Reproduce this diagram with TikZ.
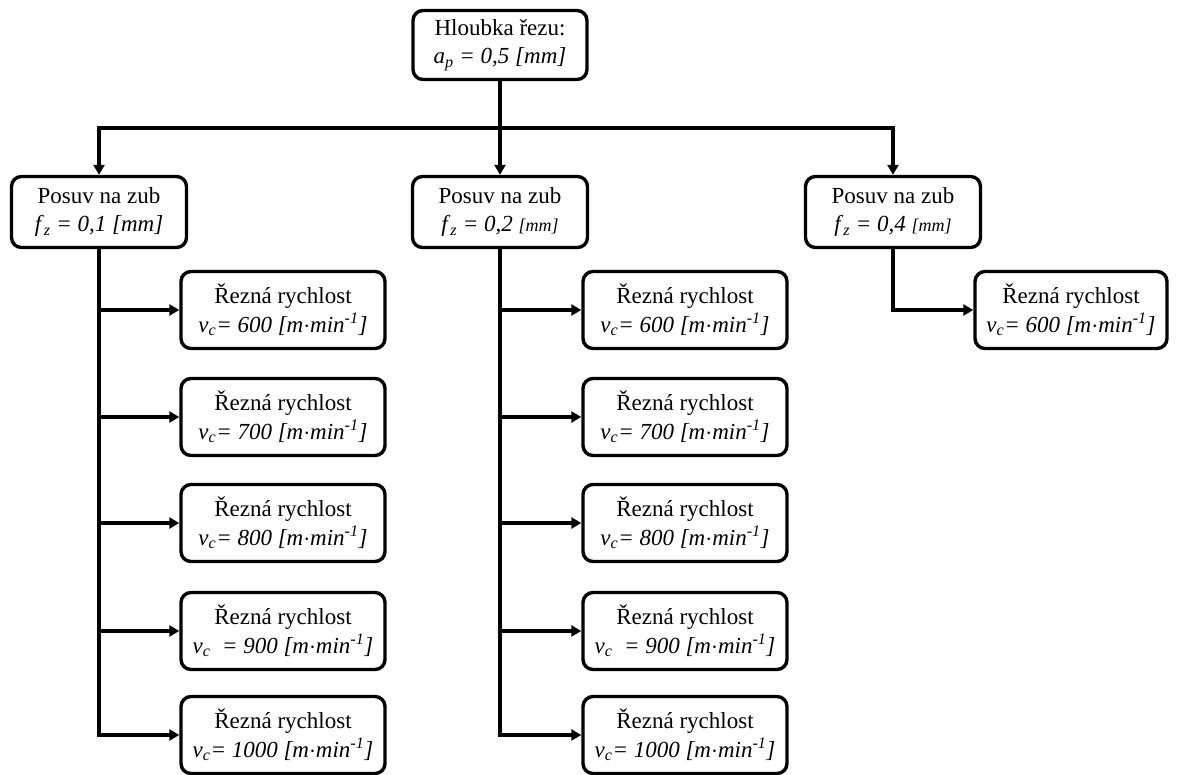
\documentclass[tikz,border=0pt]{standalone}
\usepackage{fontspec}
\setmainfont{Liberation Serif}
\usetikzlibrary{arrows.meta}
\newcommand{\vc}[1]{\textit{v}\textsubscript{\textit{c}}\textit{#1 [m$\cdot$min\textsuperscript{-1}]}}
\begin{document}
\begin{tikzpicture}[x=1pt,y=-1pt,
  box/.style={draw,line width=3.4pt,rounded corners=10pt,align=center,inner sep=0pt,font=\fontsize{23}{28.5}\selectfont},
  topbox/.style={box,minimum width=174pt,minimum height=69pt},
  fbox/.style={box,minimum width=175pt,minimum height=71pt},
  vbox/.style={box,minimum width=204pt,minimum height=77pt},
  conn/.style={line width=3.6pt},
  arr/.style={conn,-{Triangle[length=10pt,width=11pt]}}]
\useasboundingbox (0,0) rectangle (1183,774);
\node[topbox] (top) at (500,45) {Hloubka řezu:\\\textit{a}\textsubscript{\textit{p}}\textit{ = 0,5 [mm]}};
\node[fbox] (f1) at (99,212) {Posuv na zub\\\textit{f}\textsubscript{\textit{z}}\textit{ = 0,1 [mm]}};
\node[fbox] (f2) at (500,212) {Posuv na zub\\\textit{f}\textsubscript{\textit{z}}\textit{ = 0,2 {\fontsize{18}{20}\selectfont[mm]}}};
\node[fbox] (f3) at (893,212) {Posuv na zub\\\textit{f}\textsubscript{\textit{z}}\textit{ = 0,4 {\fontsize{18}{20}\selectfont[mm]}}};
\coordinate (h) at (500,128);
\draw[conn] (top.south) -- (h);
\draw[arr] (h) -| (f1.north);
\draw[arr] (h) -- (f2.north);
\draw[arr] (h) -| (f3.north);
\foreach \c/\f/\x in {a/f1/283,b/f2/685}{
  \node[vbox] (\c1) at (\x,310) {Řezná rychlost\\\vc{= 600}};
  \node[vbox] (\c2) at (\x,417) {Řezná rychlost\\\vc{= 700}};
  \node[vbox] (\c3) at (\x,523) {Řezná rychlost\\\vc{= 800}};
  \node[vbox] (\c4) at (\x,631) {Řezná rychlost\\\vc{\ \ = 900}};
  \node[vbox] (\c5) at (\x,735) {Řezná rychlost\\\vc{= 1000}};
  \draw[arr] (\f.south) |- (\c5.west);
  \foreach \i in {1,...,4}{
    \draw[arr] (\f.south |- \c\i.west) -- (\c\i.west);
  }
}
\node[vbox,minimum width=192pt] (c1) at (1071,310) {Řezná rychlost\\\vc{= 600}};
\draw[arr] (f3.south) |- (c1.west);
\end{tikzpicture}
\end{document}
